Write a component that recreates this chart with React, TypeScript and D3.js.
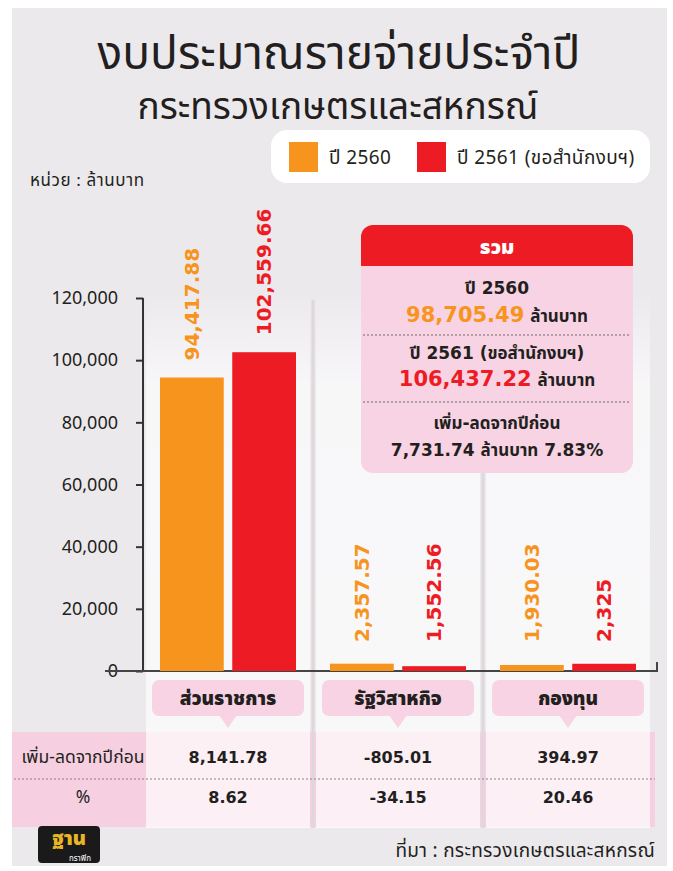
import React, { useRef, useEffect } from "react";
import * as d3 from "d3";

const categories = ["ส่วนราชการ", "รัฐวิสาหกิจ", "กองทุน"];
const seriesNames = ["ปี 2560", "ปี 2561 (ขอสำนักงบฯ)"];
const values2560 = [94417.88, 2357.57, 1930.03];
const values2561 = [102559.66, 1552.56, 2325];
const valueLabels2560 = ["94,417.88", "2,357.57", "1,930.03"];
const valueLabels2561 = ["102,559.66", "1,552.56", "2,325"];
const yTicks = [0, 20000, 40000, 60000, 80000, 100000, 120000];
const changeValues = ["8,141.78", "-805.01", "394.97"];
const changePercents = ["8.62", "-34.15", "20.46"];
const totalLines = [
  { label: "ปี 2560", value: "", unit: "" },
  { label: "", value: "98,705.49", unit: " ล้านบาท" },
  { label: "ปี 2561 (ขอสำนักงบฯ)", value: "", unit: "" },
  { label: "", value: "106,437.22", unit: " ล้านบาท" },
  { label: "เพิ่ม-ลดจากปีก่อน", value: "", unit: "" },
  { label: "7,731.74 ล้านบาท 7.83%", value: "", unit: "" },
];

const W = 673;
const H = 871;
const ORANGE = "#f7941d";
const RED = "#ed1c24";
const DARK = "#231f20";
const BG = "#ece9ed";
const PINK = "#f8d3e3";
const FONT = "'Noto Sans Thai', 'Noto Sans', 'DejaVu Sans', sans-serif";
const BOLD = "'DejaVu Sans', 'Noto Sans Thai', sans-serif";

const App = () => {
  const ref = useRef(null);

  useEffect(() => {
    const svg = d3.select(ref.current);
    svg.selectChildren().remove();

    const defs = svg.append("defs");
    const grad = defs.append("linearGradient").attr("id", "colgrad")
      .attr("x1", 0).attr("y1", 0).attr("x2", 0).attr("y2", 1);
    grad.append("stop").attr("offset", "0%").attr("stop-color", "#ffffff").attr("stop-opacity", 0);
    grad.append("stop").attr("offset", "18%").attr("stop-color", "#ffffff").attr("stop-opacity", 0.9);
    grad.append("stop").attr("offset", "100%").attr("stop-color", "#ffffff").attr("stop-opacity", 1);

    // background card
    svg.append("rect").attr("width", W).attr("height", H).attr("fill", "#ffffff");
    svg.append("rect").attr("x", 12).attr("y", 8).attr("width", 655).attr("height", 858).attr("fill", BG);

    // scales
    const x0 = d3.scaleBand().domain(categories).range([143, 653]).paddingInner(0.2).paddingOuter(0.1);
    const x1 = d3.scaleBand().domain(["a", "b"]).range([0, x0.bandwidth()]).paddingInner(0.1176);
    const y = d3.scaleLinear().domain([0, 120000]).range([671, 298]);

    // table band
    svg.append("rect").attr("x", 12).attr("y", 732).attr("width", 643).attr("height", 95).attr("fill", "#f6cfe0");

    // column panels
    categories.forEach((c) => {
      const bx = x0(c) - x0.step() * 0.1;
      svg.append("rect").attr("x", bx + 3).attr("y", 290).attr("width", x0.step() - 6).attr("height", 538)
        .attr("fill", "url(#colgrad)").attr("opacity", 0.7);
    });
    [1, 2].forEach((i) => {
      const sx = x0(categories[i]) - x0.step() * 0.1;
      svg.append("line").attr("x1", sx).attr("x2", sx).attr("y1", 300).attr("y2", 828)
        .attr("stroke", "#dcd8dc").attr("stroke-width", 3);
    });

    // title
    svg.append("text").attr("x", 339).attr("y", 69).attr("text-anchor", "middle")
      .attr("font-family", FONT).attr("font-size", 46).attr("fill", DARK).text("งบประมาณรายจ่ายประจำปี");
    svg.append("text").attr("x", 338).attr("y", 119).attr("text-anchor", "middle")
      .attr("font-family", FONT).attr("font-size", 37).attr("fill", DARK).text("กระทรวงเกษตรและสหกรณ์");

    // unit
    svg.append("text").attr("x", 30).attr("y", 186)
      .attr("font-family", FONT).attr("font-size", 17).attr("letter-spacing", 0.6).attr("fill", DARK).text("หน่วย : ล้านบาท");

    // legend
    svg.append("rect").attr("x", 271).attr("y", 130).attr("width", 379).attr("height", 53).attr("rx", 16).attr("fill", "#ffffff");
    const lg = [
      { x: 289, color: ORANGE, name: seriesNames[0] },
      { x: 417, color: RED, name: seriesNames[1] },
    ];
    lg.forEach((l) => {
      svg.append("rect").attr("x", l.x).attr("y", 142).attr("width", 29).attr("height", 30).attr("fill", l.color);
      svg.append("text").attr("x", l.x + 40).attr("y", 164).attr("font-family", FONT).attr("font-size", 19)
        .attr("letter-spacing", 0.4).attr("fill", DARK).text(l.name);
    });

    // y axis
    const yAxis = svg.append("g").attr("transform", "translate(143,0)")
      .call(d3.axisLeft(y).tickValues(yTicks).tickSize(7).tickPadding(18).tickFormat(d3.format(",")));
    yAxis.select(".domain").attr("stroke", "#333").attr("stroke-width", 2).attr("d", "M0,298V671");
    yAxis.selectAll(".tick line").attr("stroke", "#333").attr("stroke-width", 2);
    yAxis.selectAll(".tick text").attr("font-family", FONT).attr("font-size", 18).attr("fill", DARK);

    // baseline
    svg.append("path").attr("d", "M105,671H657V662").attr("fill", "none").attr("stroke", "#444").attr("stroke-width", 2);

    // bars
    const series = [
      { key: "a", vals: values2560, labels: valueLabels2560, color: ORANGE },
      { key: "b", vals: values2561, labels: valueLabels2561, color: RED },
    ];
    series.forEach((s) => {
      categories.forEach((c, i) => {
        const bx = x0(c) + x1(s.key);
        svg.append("rect").attr("x", bx).attr("y", y(s.vals[i])).attr("width", x1.bandwidth())
          .attr("height", y(0) - y(s.vals[i])).attr("fill", s.color);
        const ly = Math.min(y(s.vals[i]) - 17, y(0) - 29);
        const cx = bx + x1.bandwidth() / 2;
        svg.append("text").attr("transform", `translate(${cx + 7},${ly}) rotate(-90)`)
          .attr("font-family", BOLD).attr("font-size", 20).attr("font-weight", 700)
          .attr("fill", s.color).text(s.labels[i]);
      });
    });

    // category labels with pointer
    categories.forEach((c) => {
      const cx = x0(c) + x0.bandwidth() / 2;
      svg.append("rect").attr("x", cx - 76).attr("y", 680).attr("width", 152).attr("height", 36).attr("rx", 7).attr("fill", PINK);
      svg.append("path").attr("d", `M${cx - 9},715L${cx},728L${cx + 9},715Z`).attr("fill", PINK);
      svg.append("text").attr("x", cx).attr("y", 705).attr("text-anchor", "middle")
        .attr("font-family", FONT).attr("font-size", 19).attr("font-weight", 900).attr("fill", DARK).text(c);
    });

    // table rows
    svg.append("line").attr("x1", 14).attr("x2", 655).attr("y1", 779).attr("y2", 779)
      .attr("stroke", "#8a8488").attr("stroke-width", 1).attr("stroke-dasharray", "2,2");
    svg.append("text").attr("x", 83).attr("y", 763).attr("text-anchor", "middle")
      .attr("font-family", FONT).attr("font-size", 17.5).attr("fill", DARK).text("เพิ่ม-ลดจากปีก่อน");
    svg.append("text").attr("x", 83).attr("y", 803).attr("text-anchor", "middle")
      .attr("font-family", FONT).attr("font-size", 17.5).attr("fill", DARK).text("%");
    categories.forEach((c, i) => {
      const cx = x0(c) + x0.bandwidth() / 2;
      svg.append("text").attr("x", cx).attr("y", 763).attr("text-anchor", "middle")
        .attr("font-family", BOLD).attr("font-size", 16).attr("font-weight", 700).attr("fill", DARK).text(changeValues[i]);
      svg.append("text").attr("x", cx).attr("y", 803).attr("text-anchor", "middle")
        .attr("font-family", BOLD).attr("font-size", 16).attr("font-weight", 700).attr("fill", DARK).text(changePercents[i]);
    });

    // summary box
    const bx0 = 361, bw = 272, by0 = 225, bh = 248;
    svg.append("rect").attr("x", bx0).attr("y", by0).attr("width", bw).attr("height", bh).attr("rx", 12).attr("fill", PINK);
    svg.append("path").attr("d", `M${bx0},${by0 + 41}V${by0 + 12}a12,12 0 0 1 12,-12H${bx0 + bw - 12}a12,12 0 0 1 12,12V${by0 + 41}Z`).attr("fill", RED);
    svg.append("text").attr("x", bx0 + bw / 2).attr("y", by0 + 29).attr("text-anchor", "middle")
      .attr("font-family", FONT).attr("font-size", 20).attr("font-weight", 900).attr("fill", "#fff").text("รวม");
    const lineYs = [294, 322, 359, 386, 429, 456];
    totalLines.forEach((l, i) => {
      const t = svg.append("text").attr("x", bx0 + bw / 2).attr("y", lineYs[i]).attr("text-anchor", "middle")
        .attr("font-family", BOLD).attr("font-weight", 700).attr("font-size", 17).attr("fill", DARK);
      if (l.value) {
        t.append("tspan").attr("font-size", 21).attr("fill", i === 1 ? ORANGE : RED).text(l.value);
        t.append("tspan").text(l.unit);
      } else {
        t.text(l.label);
      }
    });
    [335, 402].forEach((yy) => {
      svg.append("line").attr("x1", bx0 + 2).attr("x2", bx0 + bw - 2).attr("y1", yy).attr("y2", yy)
        .attr("stroke", "#6d6669").attr("stroke-width", 1).attr("stroke-dasharray", "2,2");
    });

    // logo
    svg.append("rect").attr("x", 38).attr("y", 826).attr("width", 62).attr("height", 37).attr("rx", 4).attr("fill", "#1a1a1a");
    svg.append("text").attr("x", 69).attr("y", 845).attr("text-anchor", "middle")
      .attr("font-family", FONT).attr("font-size", 20).attr("font-weight", 900).attr("fill", "#e9b526").text("ฐาน");
    svg.append("text").attr("x", 80).attr("y", 861).attr("text-anchor", "middle")
      .attr("font-family", FONT).attr("font-size", 8).attr("fill", "#ffffff").text("กราฟิก");

    // source
    svg.append("text").attr("x", 655).attr("y", 857).attr("text-anchor", "end")
      .attr("font-family", FONT).attr("font-size", 19).attr("letter-spacing", 0.3).attr("fill", DARK).text("ที่มา : กระทรวงเกษตรและสหกรณ์");
  });

  return (
    <svg ref={ref} width={W} height={H} style={{ position: "absolute", left: 0, top: 0 }}></svg>
  );
};

export default App;
